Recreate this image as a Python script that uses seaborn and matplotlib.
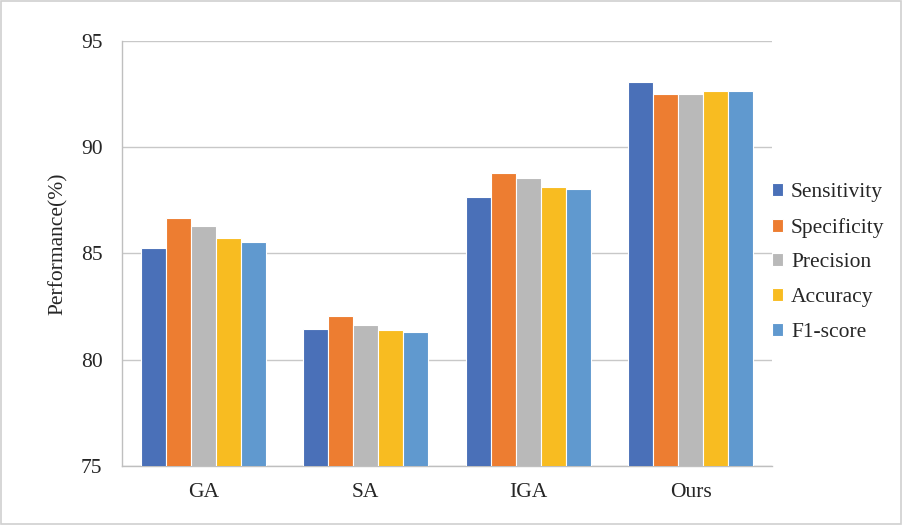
import numpy as np
import pandas as pd
import seaborn as sns
import matplotlib.pyplot as plt
from matplotlib.patches import Rectangle
from matplotlib.ticker import FixedLocator

methods = ["GA", "SA", "IGA", "Ours"]
metrics = ["Sensitivity", "Specificity", "Precision", "Accuracy", "F1-score"]
sensitivity = [85.26, 81.47, 87.68, 93.09]
specificity = [86.69, 82.04, 88.80, 92.51]
precision = [86.30, 81.65, 88.57, 92.49]
accuracy = [85.71, 81.42, 88.15, 92.66]
f1_score = [85.53, 81.32, 88.04, 92.66]
colors = ["#4A70B8", "#ED7D31", "#B9B9B9", "#F8BC21", "#6099CF"]

rows = []
for name, vals in zip(metrics, [sensitivity, specificity, precision, accuracy, f1_score]):
    for m, v in zip(methods, vals):
        rows.append({"Method": m, "Metric": name, "Value": v})
df = pd.DataFrame(rows)

sns.set_style("white")
plt.rcParams["font.family"] = ["Liberation Serif", "DejaVu Serif"]

fig = plt.figure(figsize=(9.03, 5.25), dpi=100)
ax = fig.add_axes([0.1351, 0.1124, 0.7198, 0.8095])

sns.barplot(data=df, x="Method", y="Value", hue="Metric", palette=colors,
            saturation=1, width=0.77, edgecolor="white", linewidth=0.8,
            ax=ax, zorder=3)

ax.set_ylim(75, 95)
ax.set_xlim(-0.5, 3.5)
ax.set_yticks([75, 80, 85, 90, 95])
ax.yaxis.grid(True, color="#C8C8C8", linewidth=1.0, zorder=0)
ax.set_axisbelow(True)
for s in ["top", "right"]:
    ax.spines[s].set_visible(False)
ax.spines["left"].set_color("#BFBFBF")
ax.spines["bottom"].set_color("#BFBFBF")
ax.spines["left"].set_linewidth(1.0)
ax.spines["bottom"].set_linewidth(1.0)

# category boundary ticks on x, no major tick marks
ax.xaxis.set_minor_locator(FixedLocator([-0.5, 0.5, 1.5, 2.5, 3.5]))
ax.tick_params(axis="x", which="major", length=0, labelsize=15.5, pad=12)
ax.tick_params(axis="x", which="minor", length=6, color="#BFBFBF", width=1.0)
ax.tick_params(axis="y", length=6, color="#BFBFBF", width=1.0, labelsize=15.5, pad=8)

ax.set_xlabel("")
ax.set_ylabel("Performance(%)", fontsize=15.5, labelpad=9, y=0.524)

handles, labels = ax.get_legend_handles_labels()
ax.get_legend().remove()
fig.legend(handles, labels, loc="center left", bbox_to_anchor=(0.833, 0.5),
           frameon=False, fontsize=15.5, handlelength=0.55, handleheight=0.55,
           handletextpad=0.35, labelspacing=0.72)

fig.add_artist(Rectangle((0.001, 0.002), 0.997, 0.996, transform=fig.transFigure,
                         fill=False, edgecolor="#D0D0D0", linewidth=1.2))

fig.savefig("out.png", dpi=100)
